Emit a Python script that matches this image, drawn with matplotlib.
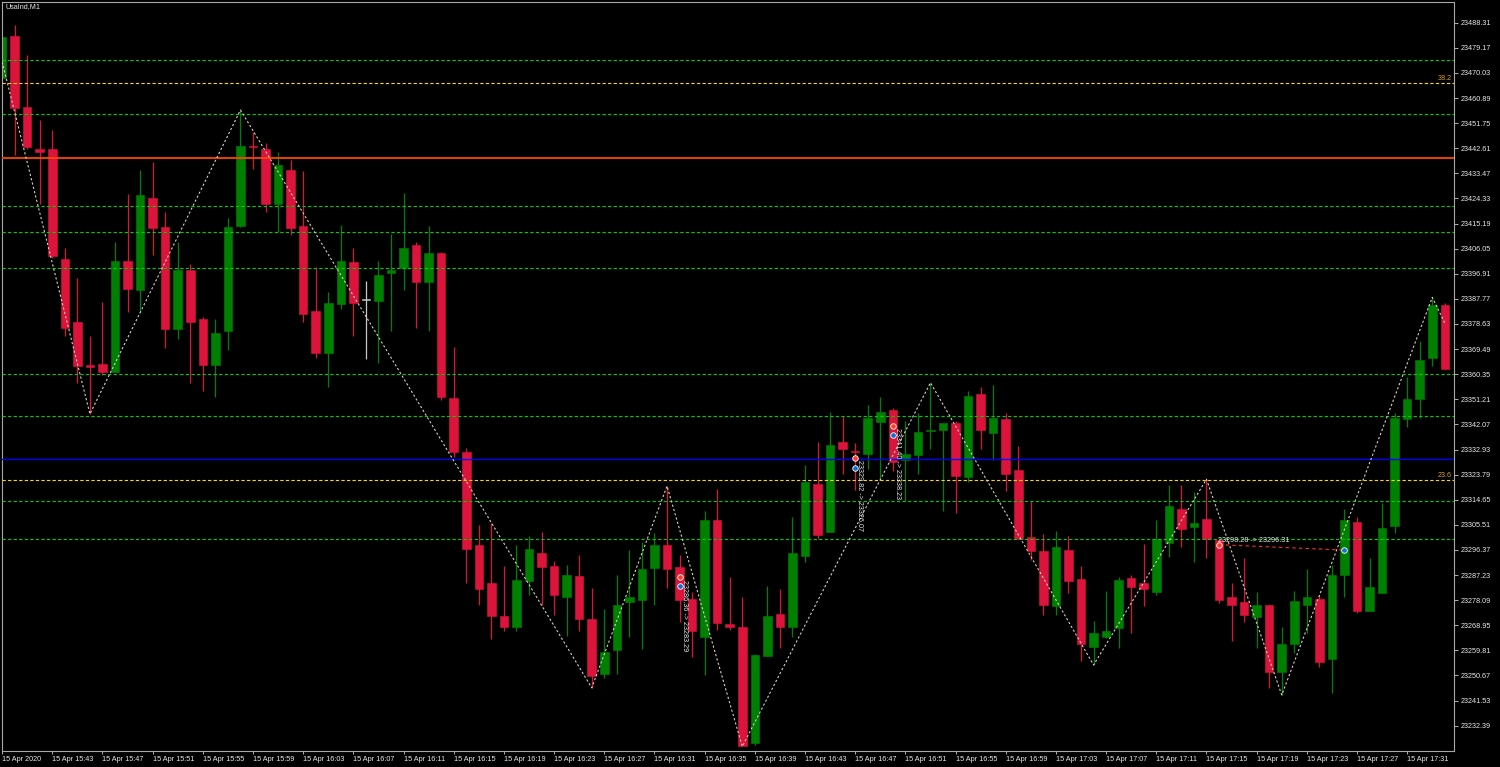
import matplotlib
matplotlib.use("Agg")
import matplotlib.pyplot as plt
import numpy as np

# UsaInd M1, 15 Apr 2020, bars from 15:39 to 17:34
opens = [23468.18, 23483.46, 23457.51, 23442.33, 23442.33, 23402.29, 23379.35, 23363.59, 23364.06, 23361.26,
         23401.56, 23391.00, 23424.38, 23413.76, 23376.91, 23398.28, 23380.44, 23363.81, 23376.18, 23414.12,
         23443.42, 23442.33, 23422.39, 23434.68, 23414.30, 23383.47, 23367.96, 23385.91, 23401.20, 23387.25,
         23387.00, 23397.30, 23398.99, 23407.27, 23394.02, 23404.47, 23351.69, 23332.03, 23298.35, 23284.45,
         23272.43, 23268.32, 23285.18, 23295.30, 23290.53, 23279.17, 23287.03, 23271.41, 23251.10, 23260.06,
         23277.31, 23278.04, 23289.62, 23298.10, 23290.17, 23278.52, 23264.79, 23307.28, 23269.31, 23268.22,
         23226.00, 23257.88, 23273.06, 23268.22, 23294.28, 23320.38, 23302.80, 23335.67, 23332.50, 23331.41,
         23343.06, 23347.32, 23329.12, 23330.94, 23339.49, 23340.04, 23342.48, 23323.04, 23353.14, 23339.05,
         23344.04, 23325.48, 23301.20, 23296.10, 23275.97, 23296.35, 23285.69, 23261.15, 23264.79, 23268.06,
         23286.16, 23284.45, 23281.17, 23299.02, 23311.17, 23304.84, 23307.65, 23299.99, 23279.24, 23277.42,
         23272.07, 23276.33, 23252.05, 23262.03, 23276.33, 23278.52, 23256.79, 23287.14, 23306.44, 23274.15,
         23280.81, 23305.10, 23344.15, 23351.43, 23366.36, 23385.54]
highs = [23483.83, 23487.47, 23476.55, 23452.87, 23449.25, 23406.29, 23395.48, 23374.36, 23386.74, 23408.37,
         23425.94, 23434.68, 23437.49, 23419.28, 23408.37, 23400.47, 23381.06, 23380.44, 23417.32, 23456.53,
         23448.63, 23444.62, 23441.35, 23438.33, 23434.32, 23399.48, 23390.28, 23414.66, 23406.40, 23394.28,
         23401.56, 23411.28, 23426.42, 23408.58, 23414.41, 23404.83, 23370.25, 23333.49, 23305.45, 23306.17,
         23290.60, 23298.10, 23301.45, 23303.05, 23292.46, 23290.97, 23294.68, 23282.52, 23274.99, 23287.29,
         23296.25, 23299.19, 23302.54, 23319.65, 23294.43, 23281.06, 23310.55, 23318.56, 23286.42, 23279.14,
         23258.50, 23283.25, 23282.16, 23308.48, 23327.30, 23335.56, 23346.48, 23345.24, 23335.20, 23349.14,
         23352.16, 23348.05, 23343.20, 23346.12, 23357.26, 23342.48, 23343.42, 23354.34, 23355.58, 23356.42,
         23346.12, 23334.32, 23314.30, 23302.18, 23303.16, 23301.56, 23290.53, 23270.51, 23281.43, 23286.42,
         23287.25, 23298.54, 23307.28, 23320.02, 23320.02, 23317.58, 23322.09, 23300.61, 23284.23, 23293.33,
         23281.06, 23276.33, 23268.43, 23281.43, 23289.55, 23279.97, 23290.89, 23311.28, 23308.48, 23293.55,
         23313.35, 23346.34, 23359.44, 23372.43, 23388.34, 23386.38]
lows = [23467.45, 23440.15, 23442.33, 23422.30, 23402.65, 23374.25, 23357.04, 23345.86, 23360.05, 23361.15,
        23383.10, 23382.52, 23403.74, 23369.99, 23373.05, 23357.04, 23354.34, 23352.16, 23369.16, 23413.76,
        23435.05, 23419.33, 23412.22, 23411.02, 23379.46, 23366.14, 23355.58, 23383.98, 23374.25, 23365.88,
        23364.32, 23376.18, 23391.00, 23377.28, 23376.18, 23350.96, 23330.21, 23284.34, 23276.22, 23263.95,
        23266.98, 23266.98, 23280.15, 23276.48, 23272.76, 23265.16, 23266.98, 23246.19, 23249.87, 23251.23,
        23264.79, 23260.43, 23276.22, 23282.34, 23270.17, 23257.48, 23250.85, 23267.23, 23267.23, 23224.82,
        23225.37, 23257.88, 23260.79, 23264.79, 23292.10, 23300.25, 23302.80, 23323.91, 23318.20, 23325.84,
        23321.83, 23325.22, 23314.30, 23324.02, 23333.01, 23310.66, 23309.93, 23321.22, 23333.01, 23329.12,
        23317.94, 23300.25, 23292.71, 23272.69, 23272.69, 23280.81, 23255.95, 23254.49, 23264.21, 23260.79,
        23266.03, 23276.08, 23279.97, 23293.92, 23297.56, 23292.10, 23293.33, 23276.95, 23263.23, 23270.04,
        23260.79, 23246.01, 23243.57, 23258.97, 23266.03, 23253.88, 23244.41, 23279.14, 23273.31, 23274.15,
        23280.81, 23302.43, 23341.24, 23344.30, 23363.33, 23362.24]
closes = [23483.10, 23457.37, 23442.95, 23441.35, 23403.37, 23377.06, 23363.44, 23363.08, 23361.26, 23401.56,
          23391.36, 23425.58, 23413.40, 23376.91, 23398.28, 23379.35, 23363.81, 23375.24, 23413.76, 23443.42,
          23442.95, 23422.39, 23436.40, 23413.50, 23382.16, 23368.18, 23386.38, 23401.56, 23386.16, 23387.25,
          23396.46, 23398.28, 23406.40, 23394.02, 23404.47, 23352.05, 23332.03, 23296.61, 23282.22, 23272.25,
          23268.32, 23285.43, 23296.54, 23290.24, 23280.15, 23287.25, 23271.16, 23250.48, 23259.40, 23276.48,
          23279.06, 23289.26, 23298.35, 23289.26, 23278.30, 23266.98, 23307.28, 23269.89, 23268.22, 23225.00,
          23258.13, 23272.43, 23268.22, 23295.37, 23321.22, 23301.81, 23334.47, 23333.12, 23331.92, 23344.41,
          23346.48, 23328.28, 23331.30, 23339.20, 23339.67, 23342.48, 23323.29, 23352.41, 23340.04, 23344.30,
          23324.13, 23300.25, 23295.99, 23276.22, 23297.34, 23285.18, 23262.14, 23266.14, 23266.98, 23285.43,
          23282.99, 23282.05, 23300.25, 23312.37, 23304.00, 23306.19, 23300.37, 23278.15, 23276.33, 23272.80,
          23276.33, 23252.05, 23262.14, 23277.68, 23279.24, 23255.58, 23287.25, 23307.28, 23274.15, 23282.99,
          23304.25, 23344.51, 23351.32, 23365.52, 23385.54, 23362.24]

# zigzag vertices (bar index, price)
zz_idx = [0, 7, 19, 47, 53, 59, 74, 87, 96, 102, 114, 115]
zz_price = [23474.11, 23345.86, 23456.53, 23246.19, 23319.65, 23224.82, 23357.26, 23254.49,
            23322.09, 23243.57, 23388.34, 23378.90]

# horizontal levels
green_levels = [23474.73, 23454.96, 23421.69, 23412.01, 23398.90, 23360.24, 23344.95, 23314.08, 23300.36]
fibo_levels = [23466.25, 23321.72]
fibo_names = ["38.2", "23.6"]
red_level = 23438.94
blue_level = 23329.37

# trades: open bar, open price, close bar, close price
tr_open_idx = [54, 68, 71, 97]
tr_open_price = [23286.36, 23329.82, 23341.40, 23298.28]
tr_close_idx = [54, 68, 71, 107]
tr_close_price = [23283.29, 23326.07, 23338.23, 23296.31]

price_ticks = [23488.31, 23479.17, 23470.03, 23460.89, 23451.75, 23442.61, 23433.47, 23424.33, 23415.19,
               23406.05, 23396.91, 23387.77, 23378.63, 23369.49, 23360.35, 23351.21, 23342.07, 23332.93,
               23323.79, 23314.65, 23305.51, 23296.37, 23287.23, 23278.09, 23268.95, 23259.81, 23250.67,
               23241.53, 23232.39]
time_labels = ["15 Apr 2020", "15 Apr 15:43", "15 Apr 15:47", "15 Apr 15:51", "15 Apr 15:55", "15 Apr 15:59",
               "15 Apr 16:03", "15 Apr 16:07", "15 Apr 16:11", "15 Apr 16:15", "15 Apr 16:19", "15 Apr 16:23",
               "15 Apr 16:27", "15 Apr 16:31", "15 Apr 16:35", "15 Apr 16:39", "15 Apr 16:43", "15 Apr 16:47",
               "15 Apr 16:51", "15 Apr 16:55", "15 Apr 16:59", "15 Apr 17:03", "15 Apr 17:07", "15 Apr 17:11",
               "15 Apr 17:15", "15 Apr 17:19", "15 Apr 17:23", "15 Apr 17:27", "15 Apr 17:31"]

plt.rcParams['font.family'] = ['Liberation Sans', 'DejaVu Sans']
FS = 5.2
fg = '#e8e8e8'

fig = plt.figure(figsize=(15, 7.67), dpi=100, facecolor='black')
ax = fig.add_axes([2/1500, 1-751/767, 1452/1500, 749/767])
ax.set_facecolor('black')

o = np.array(opens); h = np.array(highs); l = np.array(lows); c = np.array(closes)
x = np.arange(len(o))
cols = np.where(c > o, '#008000', np.where(c < o, '#dc143c', '#c8c8c8'))

ax.vlines(x, l, h, colors=cols, linewidth=0.9, zorder=2)
body = np.maximum(np.abs(c - o), 0.4)
ax.bar(x, body, bottom=np.minimum(o, c), width=0.68, color=cols, edgecolor=cols, linewidth=0.4, zorder=2)

# levels
for lv in green_levels:
    ax.axhline(lv, color='#00cc00', linewidth=0.8, linestyle=(0, (3, 2)), zorder=3)
for lv, nm in zip(fibo_levels, fibo_names):
    ax.axhline(lv, color='#ffd700', linewidth=0.8, linestyle=(0, (3, 2)), zorder=3)
    ax.text(115.55, lv + 0.6, nm, color='#daa520', fontsize=FS, ha='right', va='bottom', zorder=4)
ax.axhline(red_level, color='#ff4500', linewidth=1.3, zorder=3)
ax.axhline(blue_level, color='#0000ff', linewidth=1.0, zorder=3)

# zigzag
ax.plot(zz_idx, zz_price, color='#d8d0c0', linewidth=0.8, linestyle=(0, (2, 2)), zorder=4)

# trades
for oi, op, ci, cp in zip(tr_open_idx, tr_open_price, tr_close_idx, tr_close_price):
    txt = "%.2f -> %.2f" % (op, cp)
    if oi == ci:
        ax.text(oi + 0.1, op - 0.8, txt, color=fg, fontsize=FS, rotation=-90, ha='left', va='top', zorder=6)
    else:
        ax.plot([oi, ci], [op, cp], color='#ff3030', linewidth=0.8, linestyle=(0, (3, 3)), zorder=5)
        ax.text(oi - 0.1, op + 0.4, txt, color=fg, fontsize=FS, ha='left', va='bottom', zorder=6)
    ax.plot(oi, op, 'o', ms=4, mfc='#ff4020', mec='white', mew=0.6, zorder=7)
    ax.plot(ci, cp, 'o', ms=4, mfc='#1070d0', mec='white', mew=0.6, zorder=7)

ax.set_xlim(-0.008, 115.73)
ax.set_ylim(23223.18, 23495.84)

ax.yaxis.tick_right()
ax.set_yticks(price_ticks)
ax.set_yticklabels(["%.2f" % p for p in price_ticks])
ax.set_xticks(np.arange(0, len(time_labels) * 4, 4))
ax.set_xticklabels(time_labels)
for lbl in ax.get_xticklabels():
    lbl.set_ha('left')
ax.tick_params(axis='y', colors='#b0b0b0', labelcolor=fg, length=3, width=0.7, pad=1.5, labelsize=FS)
ax.tick_params(axis='x', colors='#b0b0b0', labelcolor=fg, length=2, width=0.7, pad=1.5, labelsize=FS)
for sp in ax.spines.values():
    sp.set_color('#a8a8a8')
    sp.set_linewidth(0.8)

fig.text(5/1500, 1-3/767, "UsaInd,M1", color=fg, fontsize=FS, ha='left', va='top')

fig.savefig("out.png", dpi=100, facecolor='black')
